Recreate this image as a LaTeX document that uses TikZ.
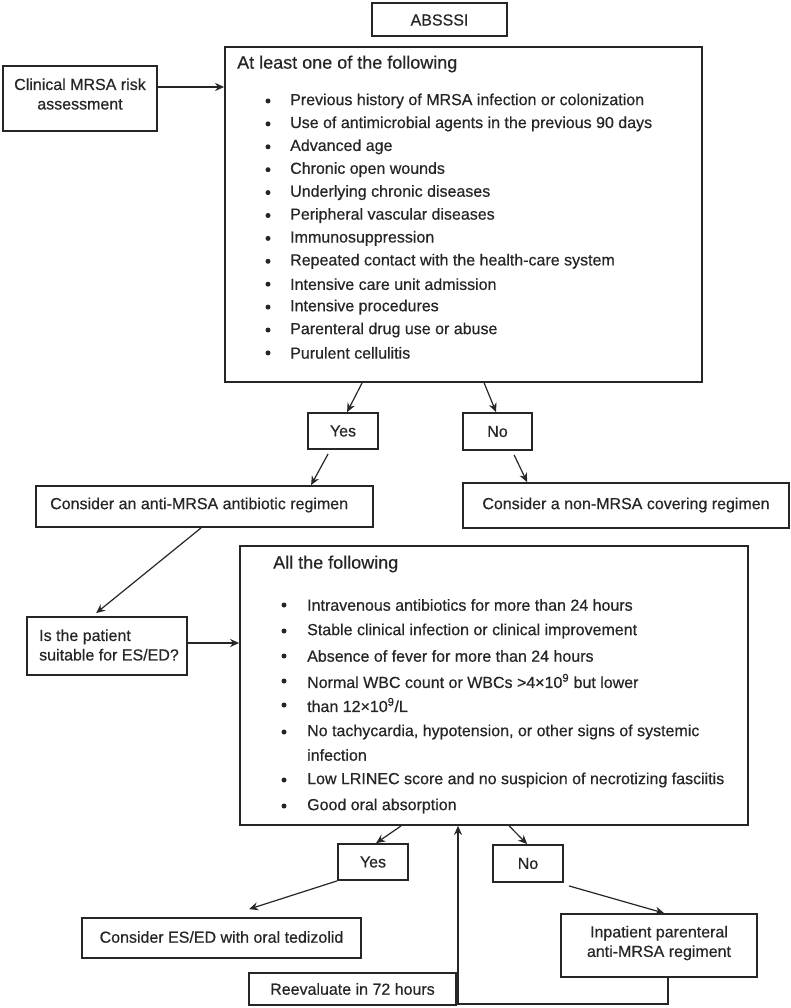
\documentclass[tikz,border=0pt]{standalone}
\usepackage{fontspec}
\setmainfont{Liberation Sans}
\newfontfamily\heavyfont{Liberation Sans}[FakeBold=0.5]
\usetikzlibrary{arrows.meta}
\begin{document}
\begin{tikzpicture}[x=1pt,y=-1pt,
  box/.style={draw=black!85,line width=1.8pt,inner sep=0pt,fill=white},
  txt/.style={font=\heavyfont\fontsize{16}{19.5}\selectfont,inner sep=0pt,text=black!85},
  ttl/.style={font=\heavyfont\fontsize{18}{21}\selectfont,inner sep=0pt,anchor=west,text=black!85},
  bul/.style={circle,fill=black!85,inner sep=0pt,minimum size=5pt},
  arr/.style={draw=black!85,line width=1.2pt,-{Stealth[length=9pt,width=8pt]}}]
\useasboundingbox[fill=white] (0,0) rectangle (791,1008);

% boxes
\node[box,minimum width=135,minimum height=33] (abs) at (439.5,19.5) {};
\node[txt] (abst) at (439.5,20) {ABSSSI};
\node[box,minimum width=154,minimum height=65] (clin) at (80,98.5) {};
\node[txt,align=center] (clint) at (80,94) {Clinical MRSA risk\\assessment};
\node[box,minimum width=477,minimum height=335] (b1) at (463.5,214.5) {};
\node[ttl] (b1t) at (237,64) {At least one of the following};
\foreach \t [count=\i] in {Previous history of MRSA infection or colonization,
  Use of antimicrobial agents in the previous 90 days,
  Advanced age, Chronic open wounds, Underlying chronic diseases,
  Peripheral vascular diseases, Immunosuppression,
  Repeated contact with the health-care system,
  Intensive care unit admission, Intensive procedures,
  Parenteral drug use or abuse, Purulent cellulitis}{
  \node[bul] (ba\i) at (268,{101+22.9*(\i-1)}) {};
  \node[txt,anchor=west] (ta\i) at (290,{101+22.9*(\i-1)}) {\t};
}
\node[box,minimum width=70,minimum height=36] (yes1) at (343,431) {};
\node[txt] (yes1t) at (343,431) {Yes};
\node[box,minimum width=69,minimum height=37] (no1) at (497.5,431.5) {};
\node[txt] (no1t) at (497.5,431.5) {No};
\node[box,minimum width=337,minimum height=41] (anti) at (204.5,506.5) {};
\node[txt,anchor=west] (antit) at (50,505) {Consider an anti-MRSA antibiotic regimen};
\node[box,minimum width=326,minimum height=45] (non) at (626,505.5) {};
\node[txt] (nont) at (626,505) {Consider a non-MRSA covering regimen};
\node[box,minimum width=160,minimum height=58] (suit) at (107,646) {};
\node[txt,align=left,anchor=west] (suitt) at (39,645) {Is the patient\\suitable for ES/ED?};
\node[box,minimum width=508,minimum height=279] (b2) at (494,685.5) {};
\node[ttl] (b2t) at (273,564) {All the following};
\foreach \yy [count=\i] in {605,631,656,681,705,732,780,806}{
  \node[bul] (bb\i) at (284,\yy) {};
}
\node[txt,anchor=west] (tb1) at (307,605) {Intravenous antibiotics for more than 24 hours};
\node[txt,anchor=west] (tb2) at (307,631) {Stable clinical infection or clinical improvement};
\node[txt,anchor=west] (tb3) at (307,656) {Absence of fever for more than 24 hours};
\node[txt,anchor=west] (tb4) at (307,681) {Normal WBC count or WBCs >4×10\textsuperscript{9} but lower};
\node[txt,anchor=west] (tb5) at (307,705) {than 12×10\textsuperscript{9}/L};
\node[txt,anchor=west] (tb6) at (307,732) {No tachycardia, hypotension, or other signs of systemic};
\node[txt,anchor=west] (tb6b) at (307,755) {infection};
\node[txt,anchor=west] (tb7) at (307,780) {Low LRINEC score and no suspicion of necrotizing fasciitis};
\node[txt,anchor=west] (tb8) at (307,806) {Good oral absorption};
\node[box,minimum width=70,minimum height=36] (yes2) at (373,862) {};
\node[txt] (yes2t) at (373,862) {Yes};
\node[box,minimum width=70,minimum height=37] (no2) at (528,863.5) {};
\node[txt] (no2t) at (528,863.5) {No};
\node[box,minimum width=279,minimum height=40] (esed) at (221.5,938) {};
\node[txt] (esedt) at (221.5,937) {Consider ES/ED with oral tedizolid};
\node[box,minimum width=196,minimum height=63] (inp) at (659,945.5) {};
\node[txt,align=center] (inpt) at (659,943) {Inpatient parenteral\\anti-MRSA regiment};
\node[box,minimum width=207,minimum height=32] (reev) at (352.5,989) {};
\node[txt] (reevt) at (352.5,989) {Reevaluate in 72 hours};

% connectors
\draw[arr] (clin.east |- 0,87) -- (b1.west |- 0,87);
\draw[arr] ([xshift=138pt]b1.south west) -- ([xshift=40pt]yes1.north west);
\draw[arr] ([xshift=260pt]b1.south west) -- ([xshift=34pt]no1.north west);
\draw[arr] ([xshift=21pt,yshift=-4pt]yes1.south west) -- ([xshift=276pt]anti.north west);
\draw[arr] ([xshift=52pt,yshift=-4pt]no1.south west) -- ([xshift=65pt]non.north west);
\draw[arr] ([xshift=166pt]anti.south west) -- ([xshift=70pt,yshift=3pt]suit.north west);
\draw[arr] (suit.east |- 0,643) -- (b2.west |- 0,643);
\draw[arr] ([xshift=162pt]b2.south west) -- ([xshift=39pt]yes2.north west);
\draw[arr] ([xshift=270pt]b2.south west) -- ([xshift=35pt]no2.north west);
\draw[arr] (yes2.south west) -- ([xshift=168pt,yshift=8pt]esed.north west);
\draw[arr] ([xshift=5pt,yshift=-3pt]no2.south east) -- ([xshift=104pt]inp.north west);
\coordinate (corner) at (458,1004);
\draw[arr] ([xshift=9pt]inp.south) |- (corner) -- (corner |- b2.south);
\end{tikzpicture}
\end{document}
